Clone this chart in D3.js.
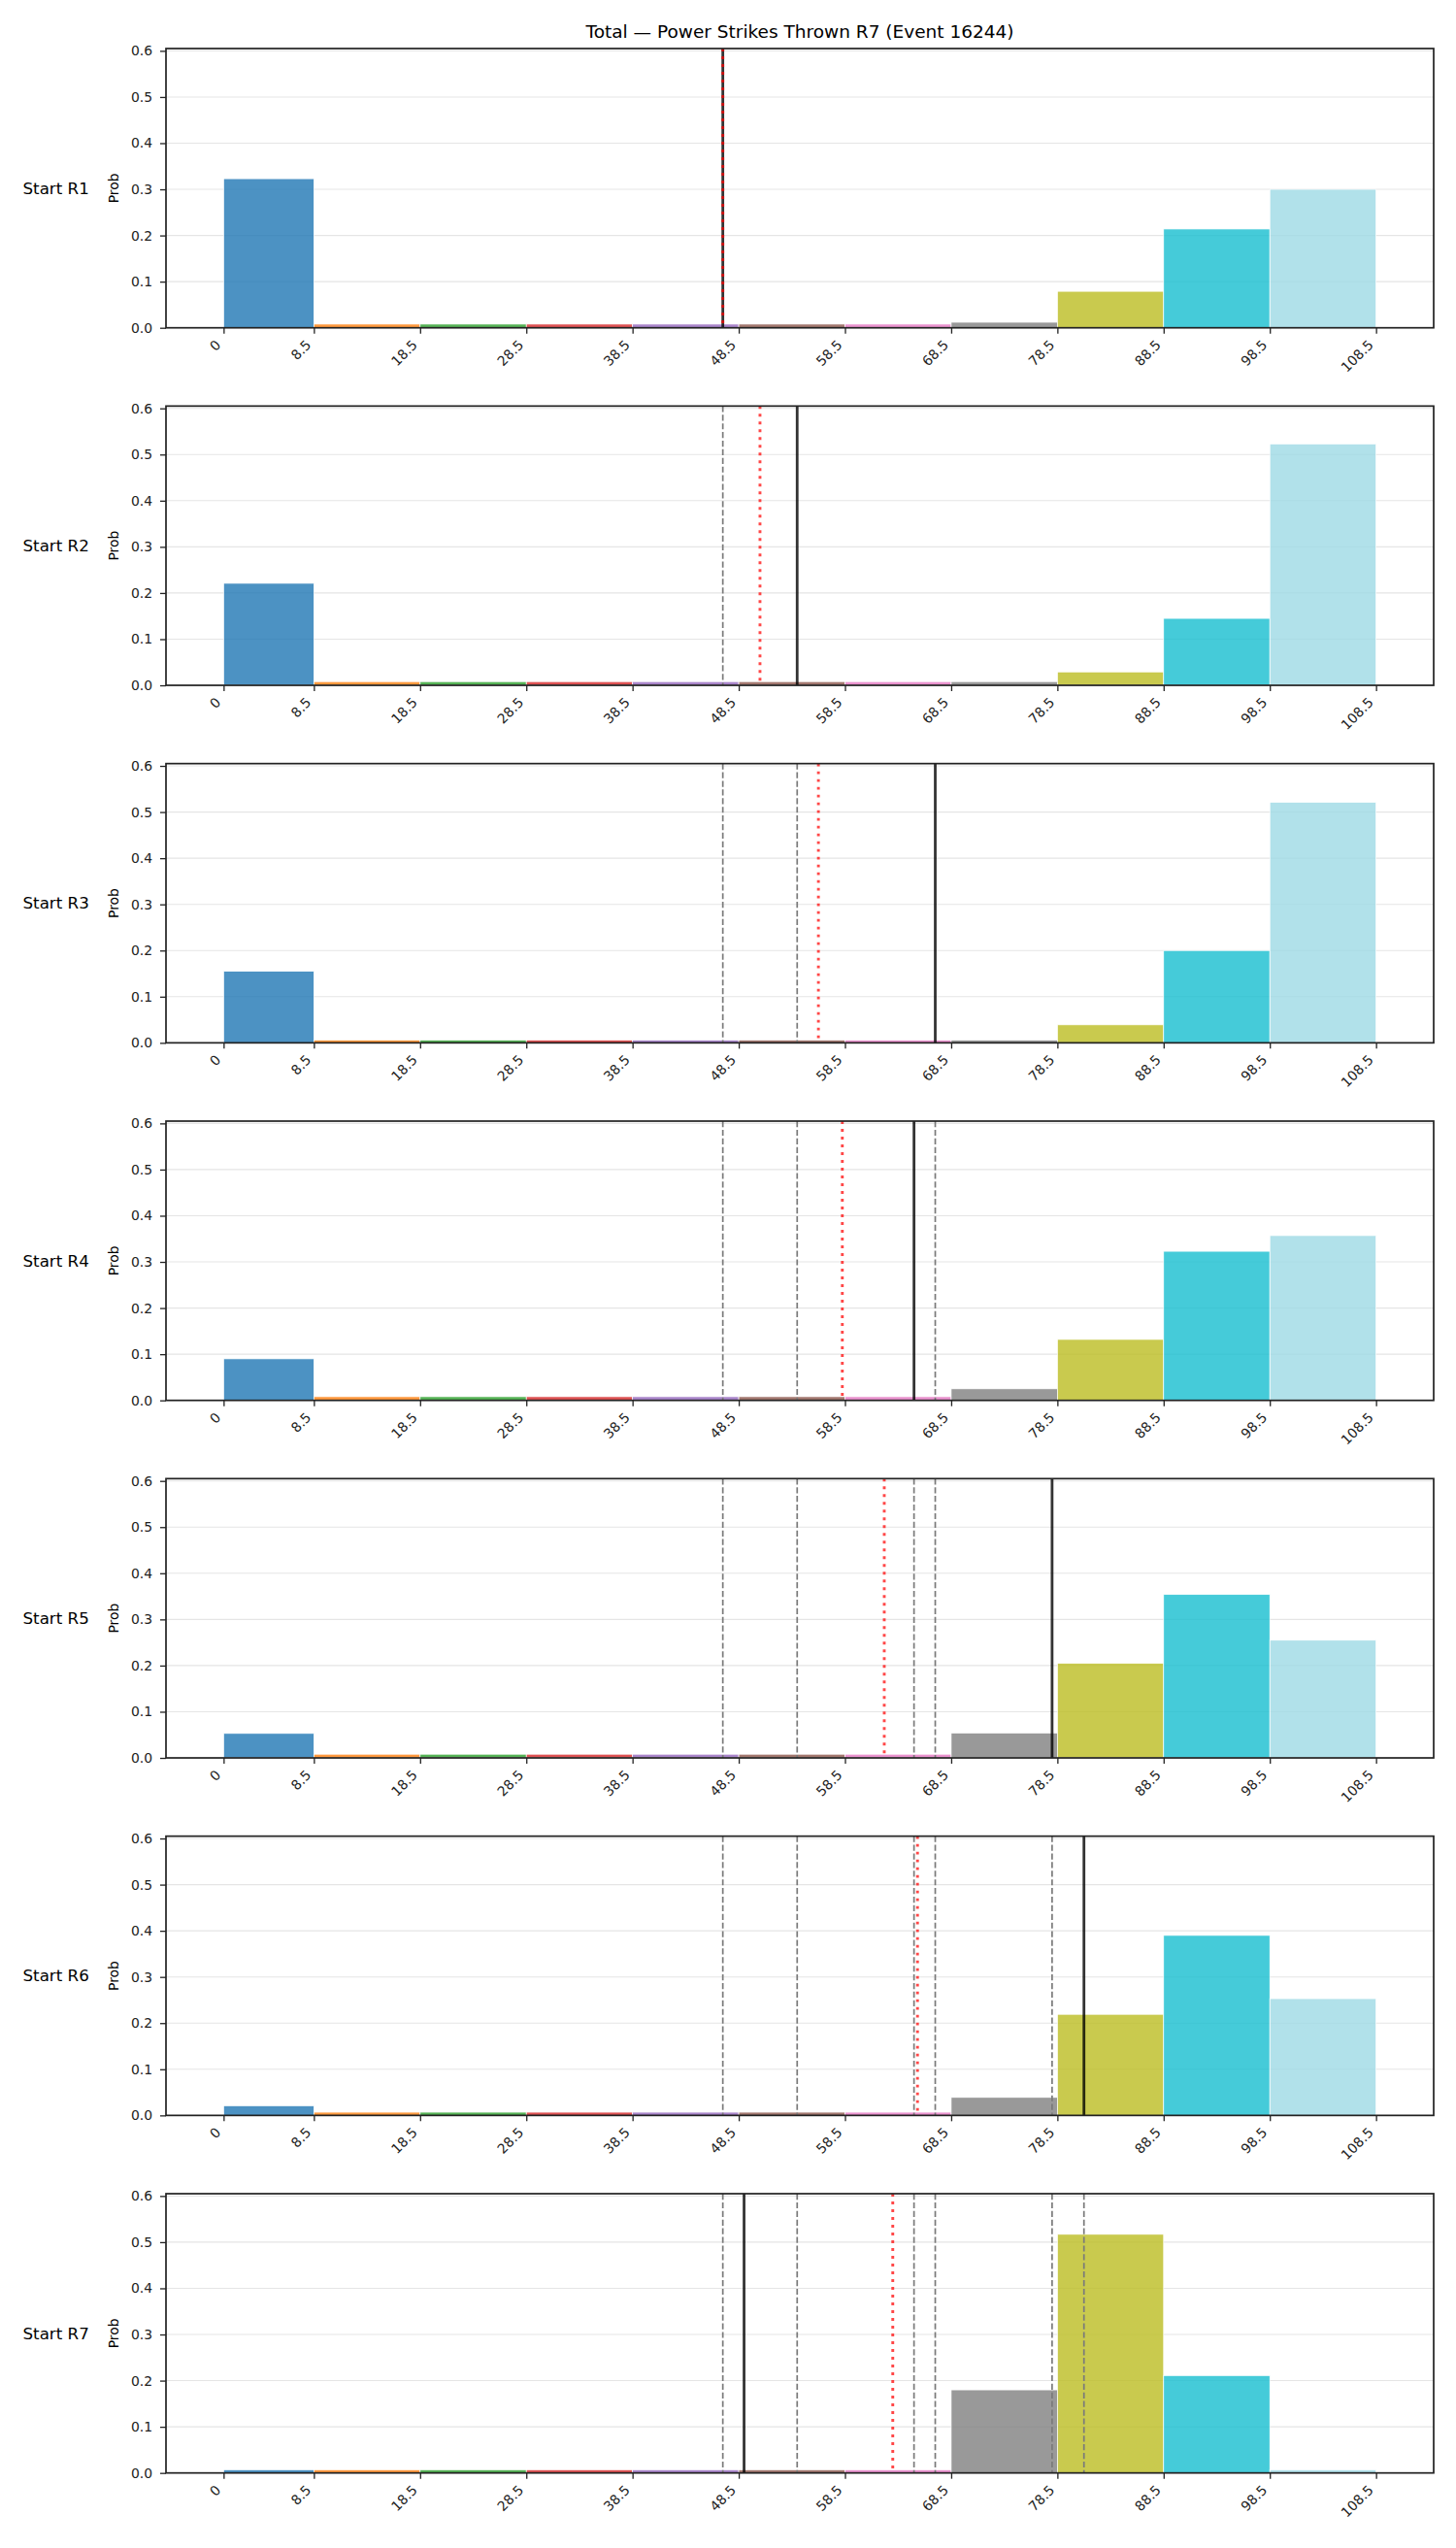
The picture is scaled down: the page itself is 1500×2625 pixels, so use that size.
<!DOCTYPE html>
<html>
<head>
<meta charset="utf-8">
<script src="https://cdn.jsdelivr.net/npm/d3@7"></script>
<style>
  body { margin: 0; background: #fff; }
  svg { display: block; font-family: "DejaVu Sans", sans-serif; }
</style>
</head>
<body>
<div id="chart"></div>
<script>
// Bin edges (x axis) and their tick labels
const binEdges = [0, 8.5, 18.5, 28.5, 38.5, 48.5, 58.5, 68.5, 78.5, 88.5, 98.5, 108.5];
const xTickLabels = ["0", "8.5", "18.5", "28.5", "38.5", "48.5", "58.5", "68.5", "78.5", "88.5", "98.5", "108.5"];
const yTicks = [0, 0.1, 0.2, 0.3, 0.4, 0.5, 0.6];

const rowLabels = ["Start R1", "Start R2", "Start R3", "Start R4", "Start R5", "Start R6", "Start R7"];

// Probability per bin, one list per starting round
const probsR1 = [0.323, 0.008, 0.008, 0.008, 0.008, 0.008, 0.008, 0.012, 0.079, 0.214, 0.300];
const probsR2 = [0.221, 0.008, 0.008, 0.008, 0.008, 0.008, 0.008, 0.008, 0.029, 0.145, 0.523];
const probsR3 = [0.155, 0.006, 0.006, 0.006, 0.006, 0.006, 0.006, 0.006, 0.039, 0.200, 0.521];
const probsR4 = [0.090, 0.008, 0.008, 0.008, 0.008, 0.008, 0.008, 0.025, 0.132, 0.323, 0.357];
const probsR5 = [0.053, 0.008, 0.008, 0.008, 0.008, 0.008, 0.008, 0.054, 0.205, 0.354, 0.255];
const probsR6 = [0.021, 0.007, 0.007, 0.007, 0.007, 0.007, 0.007, 0.039, 0.219, 0.390, 0.253];
const probsR7 = [0.007, 0.007, 0.007, 0.007, 0.007, 0.007, 0.007, 0.180, 0.517, 0.211, 0.007];
const allProbs = [probsR1, probsR2, probsR3, probsR4, probsR5, probsR6, probsR7];

// Observed total per round (solid line) and running mean (red dotted)
const actualTotals = [47, 54, 67, 65, 78, 81, 49];
const runningMean = [47, 50.5, 56, 58.25, 62.2, 65.33, 63];

const binColors = ["#1f77b4", "#ff7f0e", "#2ca02c", "#d62728", "#9467bd", "#8c564b",
                   "#e377c2", "#7f7f7f", "#bcbd22", "#17becf", "#9edae5"];

const width = 1500, height = 2625;
const left = 171, right = 1477;
const top0 = 50, step = 368.33, ph = 287.7;

const svg = d3.select("#chart").append("svg")
    .attr("width", width)
    .attr("height", height);

svg.append("rect").attr("width", width).attr("height", height).attr("fill", "#fff");

const x = d3.scaleLinear().domain([-5.425, 113.925]).range([left, right]);
const y = d3.scaleLinear().domain([0, 0.605]).range([ph, 0]);

svg.append("text")
    .attr("x", (left + right) / 2)
    .attr("y", 38.5)
    .attr("text-anchor", "middle")
    .attr("font-size", 18.5)
    .attr("fill", "#000")
    .text("Total — Power Strikes Thrown R7 (Event 16244)");

allProbs.forEach((probs, i) => {
    const g = svg.append("g").attr("transform", `translate(0,${top0 + i * step})`);

    // horizontal grid
    g.selectAll("line.grid")
        .data(yTicks)
        .join("line")
        .attr("class", "grid")
        .attr("x1", left).attr("x2", right)
        .attr("y1", d => y(d)).attr("y2", d => y(d))
        .attr("stroke", "#e5e5e5")
        .attr("stroke-width", 1.1);

    // bars
    g.selectAll("rect.bar")
        .data(probs)
        .join("rect")
        .attr("class", "bar")
        .attr("x", (d, j) => x(binEdges[j]))
        .attr("width", (d, j) => x(binEdges[j + 1]) - x(binEdges[j]))
        .attr("y", d => y(d))
        .attr("height", d => ph - y(d))
        .attr("fill", (d, j) => binColors[j])
        .attr("fill-opacity", 0.8)
        .attr("stroke", "#fff")
        .attr("stroke-width", 0.7);

    // earlier rounds' totals
    g.selectAll("line.prev")
        .data(actualTotals.slice(0, i))
        .join("line")
        .attr("class", "prev")
        .attr("x1", d => x(d)).attr("x2", d => x(d))
        .attr("y1", 0).attr("y2", ph)
        .attr("stroke", "#7a7a7a")
        .attr("stroke-width", 1.7)
        .attr("stroke-dasharray", "6.2,2.7");

    // this round's total
    g.append("line")
        .attr("x1", x(actualTotals[i])).attr("x2", x(actualTotals[i]))
        .attr("y1", 0).attr("y2", ph)
        .attr("stroke", "#000")
        .attr("stroke-opacity", 0.8)
        .attr("stroke-width", 2.8);

    // running mean
    g.append("line")
        .attr("x1", x(runningMean[i])).attr("x2", x(runningMean[i]))
        .attr("y1", 0).attr("y2", ph)
        .attr("stroke", "red")
        .attr("stroke-opacity", 0.72)
        .attr("stroke-width", 2.9)
        .attr("stroke-dasharray", "2.9,5.1");

    // y axis
    const ya = g.append("g")
        .attr("transform", `translate(${left},0)`)
        .call(d3.axisLeft(y).tickValues(yTicks).tickFormat(d3.format(".1f")).tickSize(6).tickPadding(8));
    ya.select(".domain").remove();
    ya.selectAll("line").attr("stroke", "#222").attr("stroke-width", 1.3);
    ya.selectAll("text").attr("font-size", 13.9).attr("font-family", "DejaVu Sans").attr("fill", "#222");

    // x axis
    const xa = g.append("g")
        .attr("transform", `translate(0,${ph})`)
        .call(d3.axisBottom(x).tickValues(binEdges).tickFormat((d, k) => xTickLabels[k]).tickSize(6));
    xa.select(".domain").remove();
    xa.selectAll("line").attr("stroke", "#222").attr("stroke-width", 1.3);
    xa.selectAll("text")
        .attr("font-size", 13.9)
        .attr("font-family", "DejaVu Sans")
        .attr("fill", "#222")
        .attr("y", 0).attr("dy", null)
        .attr("text-anchor", "end")
        .attr("transform", "translate(-2.5,18.5) rotate(-45)");

    // frame
    g.append("rect")
        .attr("x", left).attr("y", 0)
        .attr("width", right - left).attr("height", ph)
        .attr("fill", "none")
        .attr("stroke", "#222")
        .attr("stroke-width", 1.7);

    g.append("text")
        .attr("x", 122)
        .attr("y", ph / 2)
        .attr("transform", `rotate(-90,122,${ph / 2})`)
        .attr("text-anchor", "middle")
        .attr("font-size", 13.9)
        .text("Prob");

    g.append("text")
        .attr("x", 23.5)
        .attr("y", ph / 2)
        .attr("dy", "0.35em")
        .attr("font-size", 16.7)
        .text(rowLabels[i]);
});
</script>
</body>
</html>
